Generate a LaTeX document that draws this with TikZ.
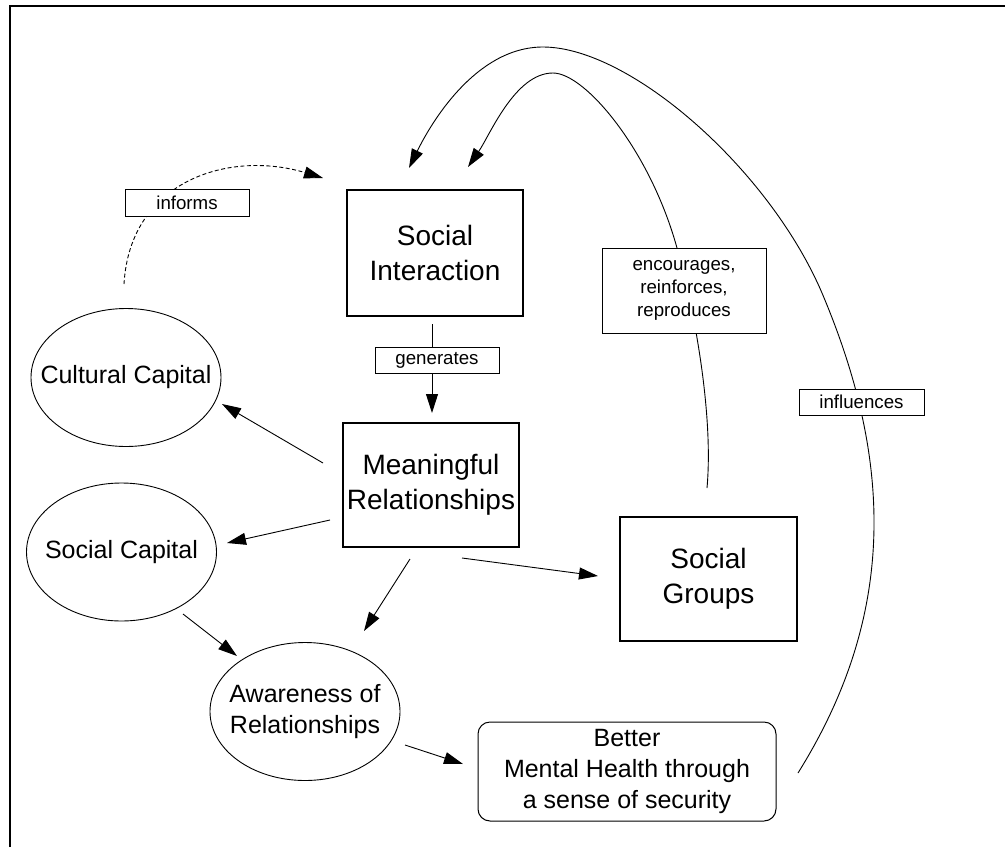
\documentclass[tikz,border=0pt]{standalone}
\usepackage{fontspec}
\setmainfont{Liberation Sans}
\usetikzlibrary{arrows.meta,shapes.geometric,backgrounds}

\begin{document}
\begin{tikzpicture}[x=1pt,y=-1pt,
  concept/.style={draw, line width=1.1pt, inner sep=0pt, align=center,
    font=\fontsize{28}{35}\selectfont},
  capital/.style={ellipse, draw, line width=0.9pt, inner xsep=-30pt, inner ysep=0pt,
    minimum width=190pt, minimum height=138pt, align=center,
    font=\fontsize{25}{31}\selectfont},
  outcome/.style={draw, rounded corners=12pt, line width=1pt, inner sep=0pt,
    align=center, font=\fontsize{25}{31}\selectfont},
  verb/.style={draw, fill=white, line width=1pt, inner sep=0pt, align=center,
    font=\fontsize{18.7}{23}\selectfont},
  conn/.style={line width=0.9pt, -{Triangle[length=19pt,width=12pt]}}]

\useasboundingbox (0,0) rectangle (1005,847);

% frame
\draw[line width=1.6pt] (10,847) -- (10,6) -- (1005,6);

% concept boxes
\node[concept, minimum width=176pt, minimum height=126pt] (si) at (435,253) {Social\\Interaction};
\node[concept, minimum width=176pt, minimum height=124pt] (mr) at (431,485) {Meaningful\\Relationships};
\node[concept, minimum width=177pt, minimum height=124pt] (sg) at (708.5,579) {Social\\Groups};

% capitals
\node[capital] (cc) at (126,377.5) {Cultural Capital};
\node[capital] (sc) at (121.5,552) {Social Capital};
\node[capital] (ar) at (305,711.5) {Awareness of\\Relationships};

% outcome
\node[outcome, minimum width=298pt, minimum height=99pt] (mh) at (627,771.5)
  {Better\\Mental Health through\\a sense of security};

% relation labels
\node[verb, minimum width=124pt, minimum height=27pt] (inf) at (187,202.5) {informs};
\node[verb, minimum width=124pt, minimum height=26pt] (gen) at (437,360) {generates};
\node[verb, minimum width=164pt, minimum height=85pt] (enc) at (684,290.5) {encourages,\\reinforces,\\reproduces};
\node[verb, minimum width=125pt, minimum height=26pt] (infl) at (861.5,402) {influences};

% connector end points
\coordinate (si-out) at (432,324);
\coordinate (mr-in) at (432,413);
\coordinate (mr-cc) at (323,463);
\coordinate (cc-in) at (222,404);
\coordinate (mr-sc) at (330,520);
\coordinate (sc-in) at (227,543);
\coordinate (mr-ar) at (410,559);
\coordinate (ar-in) at (364,631);
\coordinate (mr-sg) at (462,558);
\coordinate (sg-in) at (598,576);
\coordinate (sc-ar) at (183,614);
\coordinate (ar-in2) at (237,656);
\coordinate (ar-mh) at (405,745);
\coordinate (mh-in) at (463,764);
\coordinate (cc-out) at (124,284);
\coordinate (si-in1) at (323,178);
\coordinate (sg-out) at (707,488);
\coordinate (si-in2) at (468,167);
\coordinate (mh-out) at (798,773);
\coordinate (si-in3) at (409,168);

\begin{pgfonlayer}{background}
  % generates
  \draw[conn] (si-out) -- (mr-in);
  % from meaningful relationships
  \draw[conn] (mr-cc) -- (cc-in);
  \draw[conn] (mr-sc) -- (sc-in);
  \draw[conn] (mr-ar) -- (ar-in);
  \draw[conn] (mr-sg) -- (sg-in);
  % social capital to awareness
  \draw[conn] (sc-ar) -- (ar-in2);
  % awareness to mental health
  \draw[conn] (ar-mh) -- (mh-in);
  % informs (dashed)
  \draw[conn, dash pattern=on 4pt off 2.5pt] (cc-out) .. controls (130,180) and (230,150) .. (si-in1);
  % encourages, reinforces, reproduces
  \draw[conn] (sg-out) .. controls (714,410) and (692,300) .. (677,248)
    .. controls (650,150) and (585,73) .. (553,73)
    .. controls (515,73) and (490,135) .. (si-in2);
  % influences
  \draw[conn] (mh-out) .. controls (896,616) and (894,463) .. (822,293)
    .. controls (769,169) and (630,47) .. (543,47)
    .. controls (475,47) and (430,125) .. (si-in3);
\end{pgfonlayer}

\end{tikzpicture}
\end{document}
